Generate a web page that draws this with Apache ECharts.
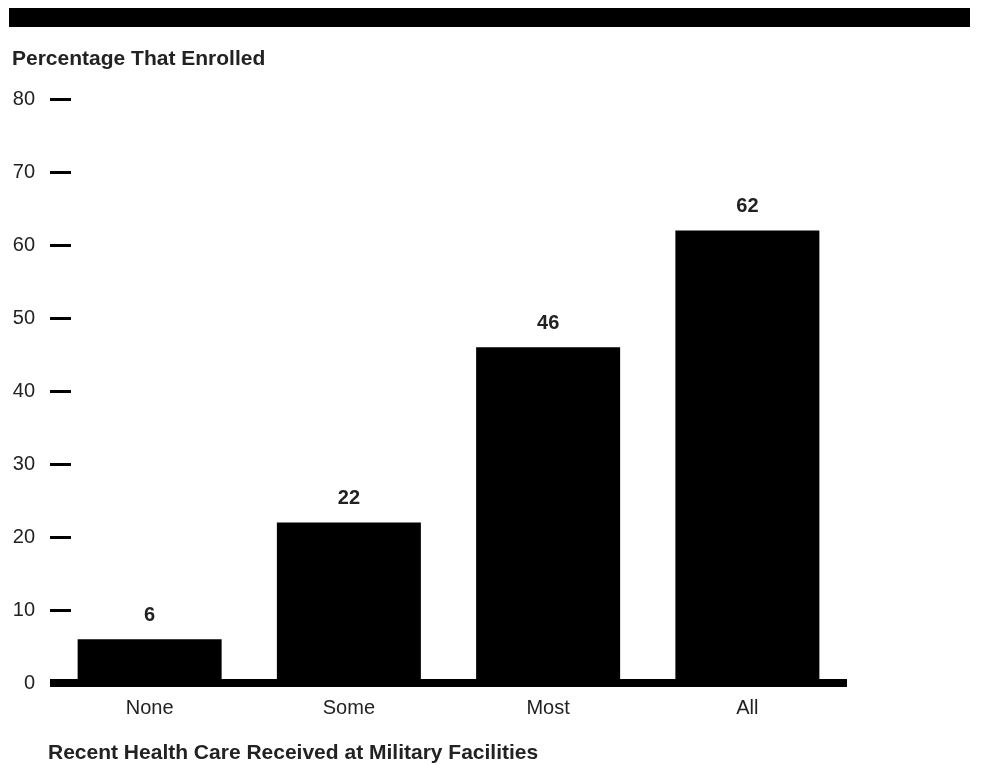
<!DOCTYPE html>
<html>
<head>
<meta charset="utf-8">
<script src="https://cdn.jsdelivr.net/npm/echarts@6/dist/echarts.min.js"></script>
<style>
html,body{margin:0;padding:0;background:#fff;}
#chart{width:982px;height:765px;}
</style>
</head>
<body>
<div id="chart"></div>
<script>
const categories = ['None', 'Some', 'Most', 'All'];
const enrolledPct = [6, 22, 46, 62];
const yTicks = [0, 10, 20, 30, 40, 50, 60, 70, 80];
const yAxisTitle = 'Percentage That Enrolled';
const xAxisTitle = 'Recent Health Care Received at Military Facilities';

const FONT = '"Liberation Sans", Arial, Helvetica, sans-serif';
const chart = echarts.init(document.getElementById('chart'), null, {renderer: 'canvas'});
chart.setOption({
  animation: false,
  backgroundColor: '#ffffff',
  textStyle: {fontFamily: FONT},
  grid: {left: 50, right: 135, top: 99, bottom: 82, containLabel: false},
  graphic: [
    {type: 'rect', shape: {x: 9, y: 8, width: 961, height: 19}, style: {fill: '#000'}},
    {type: 'text', left: 12, top: 49, style: {text: yAxisTitle, font: 'bold 21px ' + FONT, fill: '#222'}},
    {type: 'text', left: 48, top: 743, style: {text: xAxisTitle, font: 'bold 21px ' + FONT, fill: '#222'}}
  ],
  xAxis: {
    type: 'category',
    data: categories,
    axisLine: {show: true, lineStyle: {color: '#000', width: 8, cap: 'butt'}},
    axisTick: {show: false},
    axisLabel: {fontSize: 20, color: '#222', margin: 15, fontFamily: FONT},
    splitLine: {show: false}
  },
  yAxis: {
    type: 'value',
    min: yTicks[0],
    max: yTicks[yTicks.length - 1],
    interval: yTicks[1] - yTicks[0],
    axisLine: {show: false},
    axisTick: {show: true, inside: true, length: 21, lineStyle: {color: '#000', width: 3, cap: 'butt'}},
    axisLabel: {fontSize: 20, color: '#222', margin: 15, padding: [4, 0, 0, 0], fontFamily: FONT},
    splitLine: {show: false}
  },
  series: [{
    type: 'bar',
    data: enrolledPct,
    barWidth: 144,
    itemStyle: {color: '#000'},
    label: {show: true, position: 'top', distance: 14, fontSize: 20, fontWeight: 'bold', color: '#222', fontFamily: FONT}
  }]
});
</script>
</body>
</html>
